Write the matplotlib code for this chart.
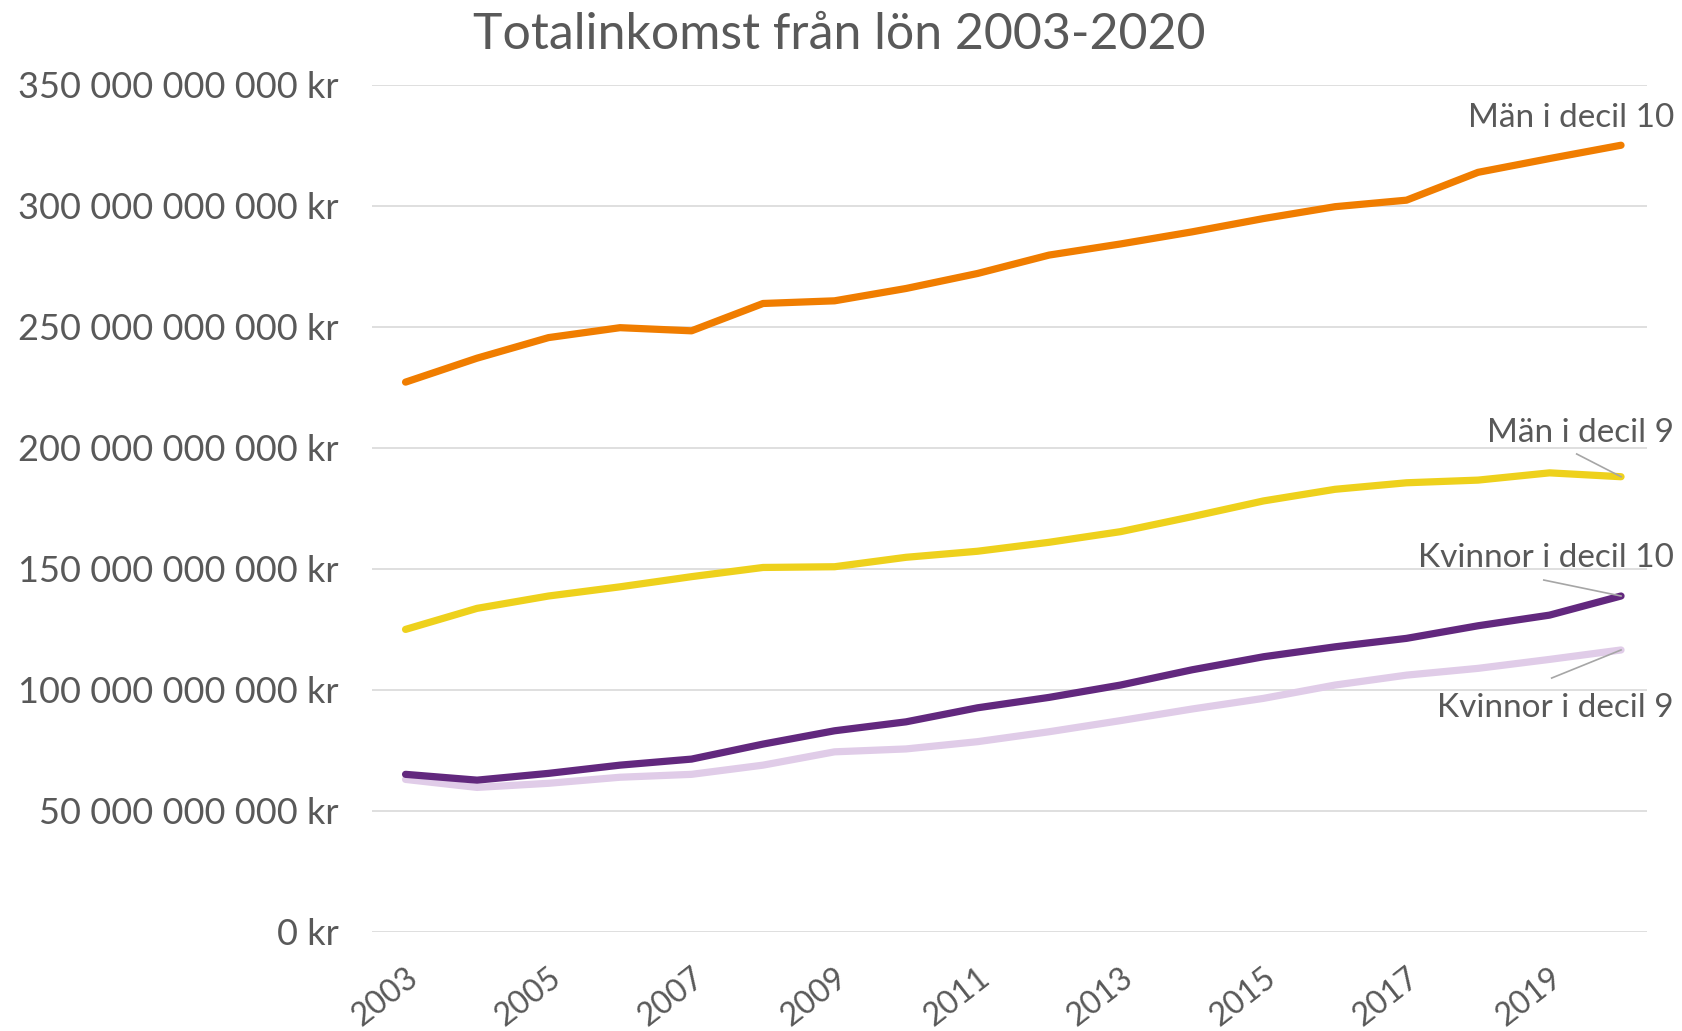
import matplotlib
matplotlib.use("Agg")
import matplotlib.pyplot as plt
from matplotlib.ticker import FuncFormatter

years = list(range(2003, 2021))
man_d10 = [227.1, 237.0, 245.5, 249.6, 248.3, 259.6, 260.7, 265.8, 272.0, 279.6,
           284.2, 289.2, 294.7, 299.6, 302.3, 313.8, 319.5, 325.0]
man_d9 = [124.9, 133.6, 138.7, 142.5, 146.7, 150.5, 150.8, 154.7, 157.2, 160.9,
          165.3, 171.5, 178.0, 182.8, 185.5, 186.6, 189.6, 188.0]
kv_d10 = [65.0, 62.6, 65.4, 68.8, 71.3, 77.5, 83.0, 86.7, 92.5, 96.8,
          101.9, 108.2, 113.6, 117.7, 121.2, 126.4, 130.8, 138.7]
kv_d9 = [62.9, 59.6, 61.3, 63.8, 65.0, 68.8, 74.3, 75.5, 78.5, 82.6,
         87.2, 92.0, 96.4, 101.9, 106.0, 108.8, 112.5, 116.4]
series_labels = ["Män i decil 10", "Män i decil 9", "Kvinnor i decil 10", "Kvinnor i decil 9"]
y_ticks = [0, 50, 100, 150, 200, 250, 300, 350]  # miljarder kr
x_ticks = list(range(2003, 2020, 2))
title = "Totalinkomst från lön 2003-2020"

plt.rcParams['font.family'] = ['Lato', 'DejaVu Sans']
TXT = '#595959'

fig = plt.figure(figsize=(16.83, 10.31), dpi=100)
ax = fig.add_axes([0.2210, 0.0964, 0.7579, 0.8214])

B = 1e9
c_or = '#F07D00'
c_ye = '#EED11C'
c_pu = '#62287E'
c_lp = '#E0CCE8'

lw = 5.2
ax.plot(years, [v * B for v in kv_d9], color=c_lp, lw=lw, solid_capstyle='round', zorder=3)
ax.plot(years, [v * B for v in kv_d10], color=c_pu, lw=lw, solid_capstyle='round', zorder=4)
ax.plot(years, [v * B for v in man_d9], color=c_ye, lw=lw, solid_capstyle='round', zorder=5)
ax.plot(years, [v * B for v in man_d10], color=c_or, lw=lw, solid_capstyle='round', zorder=6)

ax.set_xlim(2002.53, 2020.37)
ax.set_ylim(0, 350 * B)
ax.set_yticks([t * B for t in y_ticks])

def fmt(v, pos):
    if v == 0:
        return "0 kr"
    s = f"{int(round(v)):,}".replace(",", " ")
    return s + " kr"

ax.yaxis.set_major_formatter(FuncFormatter(fmt))
ax.set_xticks(x_ticks)
ax.set_xticklabels([str(x) for x in x_ticks], rotation=38, ha='right', va='top',
                   rotation_mode='anchor')
ax.tick_params(axis='y', length=0, pad=24, labelsize=26, labelcolor=TXT)
ax.tick_params(axis='x', length=0, pad=22, labelsize=23, labelcolor=TXT)
ax.grid(axis='y', color='#D9D9D9', lw=1.2, zorder=0)
ax.grid(axis='x', visible=False)
for s in ax.spines.values():
    s.set_visible(False)
ax.set_axisbelow(True)

fig.text(0.4985, 0.966, title, ha='center', va='center', fontsize=36, color=TXT)

# labels with leader lines
ann_fs = 24
lead = '#A6A6A6'
ax.text(2020.74, 336.2 * B, series_labels[0], ha='right', va='center', fontsize=ann_fs, color=TXT, clip_on=False)
ax.text(2020.74, 206.2 * B, series_labels[1], ha='right', va='center', fontsize=ann_fs, color=TXT, clip_on=False)
ax.text(2020.74, 154.4 * B, series_labels[2], ha='right', va='center', fontsize=ann_fs, color=TXT, clip_on=False)
ax.text(2020.74, 92.4 * B, series_labels[3], ha='right', va='center', fontsize=ann_fs, color=TXT, clip_on=False)
ax.plot([2019.38, years[-1]], [197.4 * B, man_d9[-1] * B], color=lead, lw=1.2, zorder=7, clip_on=False)
ax.plot([2018.92, years[-1]], [145.3 * B, kv_d10[-1] * B], color=lead, lw=1.2, zorder=7, clip_on=False)
ax.plot([2019.03, years[-1]], [104.8 * B, kv_d9[-1] * B], color=lead, lw=1.2, zorder=7, clip_on=False)

fig.savefig("out.png", dpi=100)
